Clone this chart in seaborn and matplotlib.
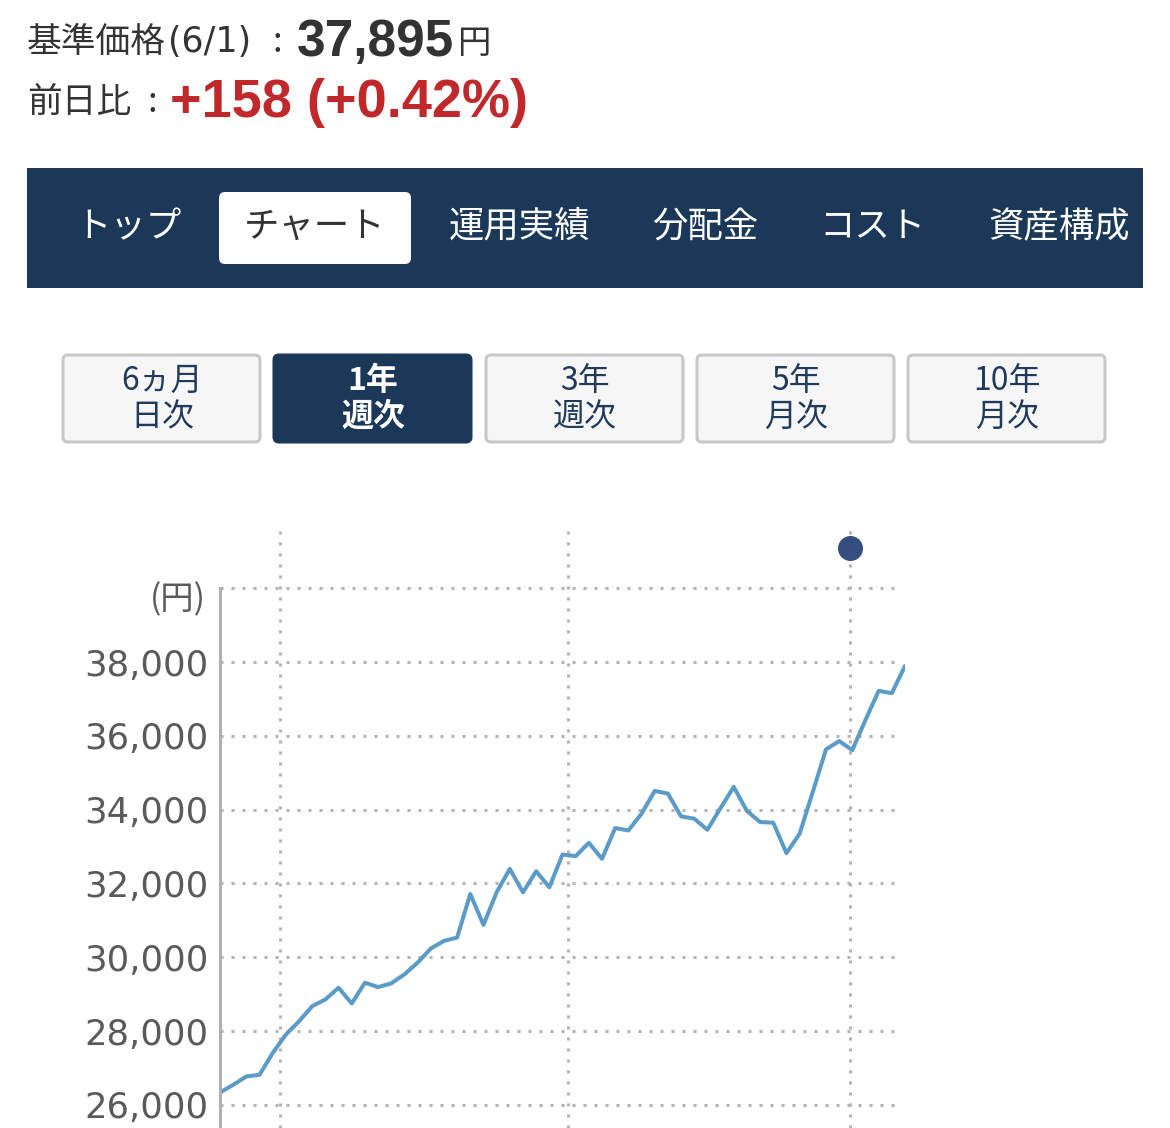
import matplotlib
matplotlib.use("Agg")
import matplotlib.pyplot as plt
import seaborn as sns
import pandas as pd
from matplotlib.patches import Rectangle, FancyBboxPatch

# --- data ---
last_date = "2023-06-01"
prices = [26335, 26544, 26770, 26816, 27406, 27905, 28266, 28675, 28857, 29175,
          28748, 29311, 29192, 29293, 29537, 29855, 30236, 30444, 30535, 31714,
          30879, 31760, 32395, 31760, 32332, 31897, 32784, 32740, 33102, 32667,
          33502, 33437, 33891, 34508, 34435, 33818, 33755, 33456, 34046, 34617,
          33964, 33665, 33646, 32822, 33347, 34481, 35633, 35859, 35614, 36430,
          37220, 37156, 37895]
grid_dates = ["2022-07-04", "2022-12-04", "2023-05-03"]
cursor_date = "2023-05-03"
cursor_y = 41100
yticks = [26000, 28000, 30000, 32000, 34000, 36000, 38000, 40000]
ytick_labels = ["26,000", "28,000", "30,000", "32,000", "34,000", "36,000", "38,000", ""]

nav_tabs = ["トップ", "チャート", "運用実績", "分配金", "コスト", "資産構成"]
active_tab = "チャート"
period_top = ["6ヵ月", "1年", "3年", "5年", "10年"]
period_bottom = ["日次", "週次", "週次", "月次", "月次"]
active_period = 1

NAVY = "#1c3859"
LINE = "#5b9bc8"
GRID = "#b4b4b4"
NUM_FONT = ["Liberation Sans", "DejaVu Sans"]

sns.set_theme(style="white")
plt.rcParams['font.family'] = ['Noto Sans CJK JP', 'DejaVu Sans']

df = pd.DataFrame({
    "date": pd.date_range(end=last_date, periods=len(prices), freq="7D"),
    "price": prices,
})

fig = plt.figure(figsize=(11.7, 11.28), dpi=100)
fig.patch.set_facecolor("white")

# page elements, drawn in pixel coordinates
ui = fig.add_axes([0, 0, 1, 1])
ui.set_xlim(0, 1170)
ui.set_ylim(1128, 0)
ui.axis("off")

ui.text(27, 42, "基準価格", fontsize=25, color="#333333", va="center")
ui.text(168, 42, "(6/1)", fontsize=25, family=["DejaVu Sans"], color="#333333", va="center")
ui.text(277, 42, ":", fontsize=25, color="#333333", ha="center", va="center")
ui.text(297, 42, "37,895", fontsize=37, fontweight="bold", family=NUM_FONT,
        color="#333333", va="center")
ui.text(458, 44, "円", fontsize=24, color="#333333", va="center")
ui.text(27, 102, "前日比", fontsize=25, color="#333333", va="center")
ui.text(152, 102, ":", fontsize=25, color="#333333", ha="center", va="center")
ui.text(170, 103, "+158 (+0.42%)", fontsize=39, fontweight="bold", family=NUM_FONT,
        color="#c0282a", va="center")

# navigation bar
ui.add_patch(Rectangle((27, 168), 1116, 120, color=NAVY, lw=0))
tab_x = [128, 315, 519, 705, 872, 1059]
for label, cx in zip(nav_tabs, tab_x):
    if label == active_tab:
        ui.add_patch(FancyBboxPatch((219, 192), 192, 72,
                                    boxstyle="round,pad=0,rounding_size=6",
                                    fc="white", ec="none"))
        col = "#333333"
    else:
        col = "white"
    ui.text(cx, 227, label, fontsize=25.5, color=col, ha="center", va="center")

# period buttons
btn_x = [63, 274, 486, 697, 908]
for i, (top, bottom, x0) in enumerate(zip(period_top, period_bottom, btn_x)):
    active = i == active_period
    ui.add_patch(FancyBboxPatch((x0, 355), 197, 87,
                                boxstyle="round,pad=0,rounding_size=5",
                                fc=NAVY if active else "#f6f6f6",
                                ec=NAVY if active else "#c8c8c8", lw=2.2))
    col = "white" if active else "#1f3a5c"
    w = "bold" if active else "normal"
    ui.text(x0 + 99, 381, top, fontsize=23, color=col, fontweight=w, ha="center", va="center")
    ui.text(x0 + 99, 417, bottom, fontsize=23, color=col, fontweight=w, ha="center", va="center")

ui.text(206, 600, "(円)", fontsize=24, color="#5a5a5a", ha="right", va="center")

# chart
ax = fig.add_axes([220 / 1170, 0, 685 / 1170, 603 / 1128])
ax.patch.set_alpha(0)
sns.lineplot(data=df, x="date", y="price", ax=ax, color=LINE, linewidth=2.9)

ax.set_xlim(df["date"].iloc[0], df["date"].iloc[-1])
ax.set_ylim(25374, 41714)
ax.set_yticks(yticks)
ax.set_yticklabels(ytick_labels)
ax.set_xticks([])
ax.set_xlabel("")
ax.set_ylabel("")
ax.tick_params(axis="y", length=0, pad=8.5, labelsize=25.5, labelcolor="#5a5a5a")
for lab in ax.get_yticklabels():
    lab.set_fontfamily(["DejaVu Sans"])

dot_style = dict(color=GRID, linewidth=2.2, linestyle=(0, (1, 2.6)), zorder=0)
for yv in yticks:
    ax.axhline(yv, xmax=0.993, **dot_style)
for d in grid_dates:
    ax.axvline(pd.Timestamp(d), **dot_style)

for side in ["top", "right", "bottom"]:
    ax.spines[side].set_visible(False)
ax.spines["left"].set_color("#b0b0b0")
ax.spines["left"].set_linewidth(2.2)
ax.spines["left"].set_bounds(25374, 40000)

ax.plot(pd.Timestamp(cursor_date), cursor_y, "o", ms=17, color="#344f7f", clip_on=False, zorder=5)

fig.savefig("out.png", dpi=100, facecolor="white")
